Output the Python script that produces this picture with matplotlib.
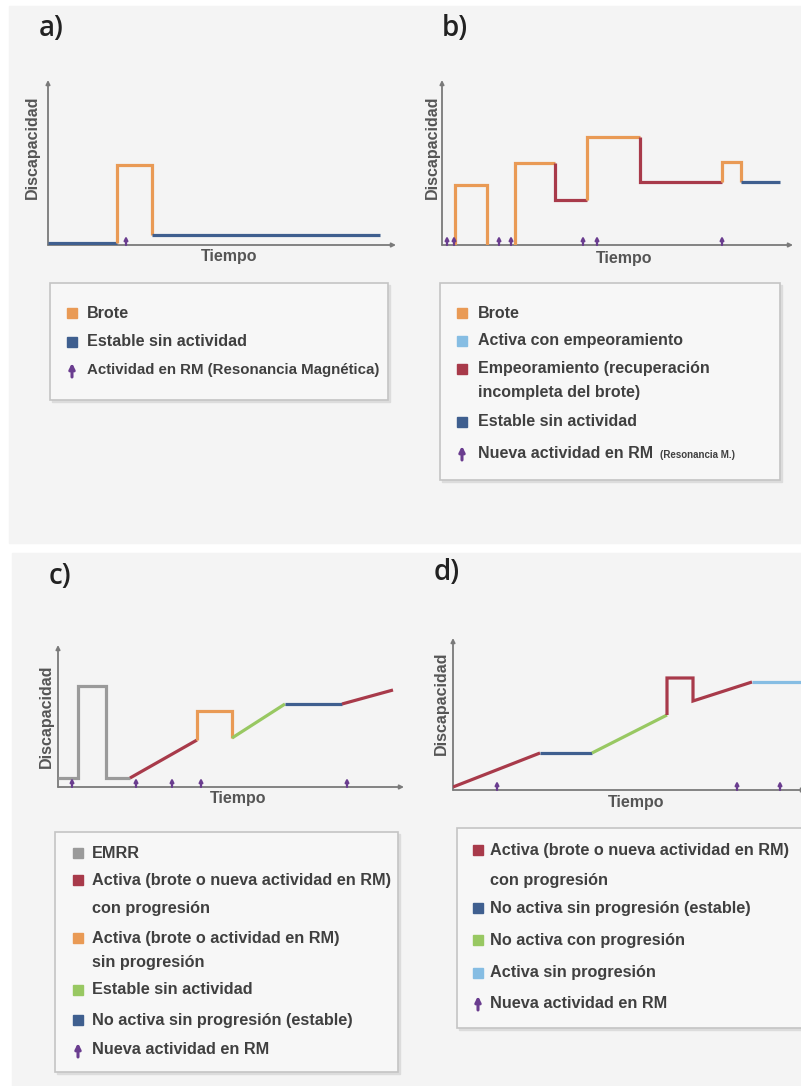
import matplotlib
matplotlib.use("Agg")
import matplotlib.pyplot as plt
from matplotlib.patches import Rectangle

W, H = 801, 1086

# colores de cada estado
C_BROTE = '#e99a55'
C_ESTABLE = '#3f5f8f'
C_EMPEORA = '#a83a4a'
C_CELESTE = '#86bde3'
C_VERDE = '#98c862'
C_GRIS = '#9a9a9a'
C_RM = '#6a3d8f'

# ---- datos (en px relativos al origen de cada grafico) ----
# a)
a_estable1_x = [0, 69]
a_estable1_y = [2, 2]
a_brote_x = [69, 69, 104, 104]
a_brote_y = [2, 80, 80, 10]
a_estable2_x = [104, 332]
a_estable2_y = [10, 10]
a_rm = [78]

# b)
b_brote1_x = [13, 13, 45, 45]
b_brote1_y = [0, 60, 60, 0]
b_brote2_x = [73, 73, 113]
b_brote2_y = [0, 82, 82]
b_empeora1_x = [113, 113, 145]
b_empeora1_y = [82, 45, 45]
b_brote3_x = [145, 145, 198]
b_brote3_y = [45, 108, 108]
b_empeora2_x = [198, 198, 280]
b_empeora2_y = [108, 63, 63]
b_brote4_x = [280, 280, 299, 299]
b_brote4_y = [63, 83, 83, 63]
b_estable_x = [299, 338]
b_estable_y = [63, 63]
b_rm = [5, 12, 57, 69, 141, 155, 280]

# c)
c_emrr_x = [0, 20, 20, 48, 48, 72]
c_emrr_y = [9, 9, 101, 101, 9, 9]
c_activa1_x = [72, 139]
c_activa1_y = [9, 47]
c_brote_x = [139, 139, 174, 174]
c_brote_y = [47, 76, 76, 49]
c_verde_x = [174, 227]
c_verde_y = [49, 83]
c_estable_x = [227, 284]
c_estable_y = [83, 83]
c_activa2_x = [284, 335]
c_activa2_y = [83, 97]
c_rm = [14, 78, 114, 143, 289]

# d)
d_activa1_x = [0, 87]
d_activa1_y = [3, 37]
d_estable_x = [87, 139]
d_estable_y = [37, 37]
d_verde_x = [139, 214]
d_verde_y = [37, 75]
d_activa2_x = [214, 214, 240, 240, 299]
d_activa2_y = [75, 112, 112, 89, 108]
d_celeste_x = [299, 352]
d_celeste_y = [108, 108]
d_rm = [44, 284, 327]

# leyendas (None = segunda linea del texto anterior)
leg_a = [('Brote', C_BROTE), ('Estable sin actividad', C_ESTABLE),
         ('Actividad en RM (Resonancia Magnética)', 'rm')]
leg_a_y = [313, 342, 370]
leg_b = [('Brote', C_BROTE), ('Activa con empeoramiento', C_CELESTE),
         ('Empeoramiento (recuperación', C_EMPEORA), ('incompleta del brote)', None),
         ('Estable sin actividad', C_ESTABLE),
         ('Nueva actividad en RM', 'rm')]
leg_b_y = [313, 341, 369, 393, 422, 453]
leg_c = [('EMRR', C_GRIS),
         ('Activa (brote o nueva actividad en RM)', C_EMPEORA), ('con progresión', None),
         ('Activa (brote o actividad en RM)', C_BROTE), ('sin progresión', None),
         ('Estable sin actividad', C_VERDE),
         ('No activa sin progresión (estable)', C_ESTABLE),
         ('Nueva actividad en RM', 'rm')]
leg_c_y = [853, 880, 909, 938, 963, 990, 1020, 1050]
leg_d = [('Activa (brote o nueva actividad en RM)', C_EMPEORA), ('con progresión', None),
         ('No activa sin progresión (estable)', C_ESTABLE),
         ('No activa con progresión', C_VERDE),
         ('Activa sin progresión', C_CELESTE),
         ('Nueva actividad en RM', 'rm')]
leg_d_y = [850, 880, 908, 940, 973, 1003]

plt.rcParams['font.family'] = ['Liberation Sans', 'DejaVu Sans']

fig = plt.figure(figsize=(W / 100, H / 100), dpi=100)
fig.patch.set_facecolor('white')
bg = fig.add_axes([0, 0, 1, 1])
bg.set_xlim(0, W)
bg.set_ylim(H, 0)
bg.axis('off')

# fondos grises
bg.add_patch(Rectangle((9, 6), W - 9, 537, color='#f4f4f4', zorder=0))
bg.add_patch(Rectangle((12, 553), W - 12, H - 553, color='#f4f4f4', zorder=0))

for lab, x, y in [('a)', 39, 29), ('b)', 442, 29), ('c)', 49, 576), ('d)', 434, 572)]:
    bg.text(x, y, lab, fontsize=20, color='#222222', va='center', ha='left',
            family='Open Sans', weight='semibold')


def rm_arrow(ax, x, y0, h, lw=1.6, ms=5):
    ax.annotate('', xy=(x, y0 + h), xytext=(x, y0),
                arrowprops=dict(arrowstyle='-|>', color=C_RM, lw=lw,
                                mutation_scale=ms, shrinkA=0, shrinkB=0))


def panel(ox, oy, wx, hy, segs, rms, tiempo_y, disc_x, disc_y):
    # ox, oy: origen en px; wx, hy: largo de los ejes en px
    ax = fig.add_axes([ox / W, 1 - oy / H, (wx + 20) / W, (hy + 10) / H])
    ax.set_xlim(0, wx + 20)
    ax.set_ylim(0, hy + 10)
    ax.axis('off')
    ax.patch.set_alpha(0)
    ax.annotate('', xy=(wx + 6, 0), xytext=(0, 0),
                arrowprops=dict(arrowstyle='-|>', color='#7a7a7a', lw=1.3,
                                mutation_scale=6, shrinkA=0, shrinkB=0))
    ax.annotate('', xy=(0, hy), xytext=(0, 0),
                arrowprops=dict(arrowstyle='-|>', color='#7a7a7a', lw=1.3,
                                mutation_scale=6, shrinkA=0, shrinkB=0))
    for xs, ys, col in segs:
        ax.plot(xs, ys, color=col, lw=2.3, solid_joinstyle='miter',
                solid_capstyle='butt', zorder=3)
    for x in rms:
        rm_arrow(ax, x, 0, 9)
    bg.text(ox + wx / 2 + 10, tiempo_y, 'Tiempo', fontsize=11.5, weight='bold',
            color='#555555', ha='center', va='center')
    bg.text(disc_x, disc_y, 'Discapacidad', fontsize=11.5, weight='bold',
            color='#555555', ha='center', va='center', rotation=90)
    return ax


panel(48, 245, 342, 165,
      [(a_estable1_x, a_estable1_y, C_ESTABLE), (a_brote_x, a_brote_y, C_BROTE),
       (a_estable2_x, a_estable2_y, C_ESTABLE)],
      a_rm, 257, 32, 147)

panel(442, 245, 345, 165,
      [(b_brote1_x, b_brote1_y, C_BROTE), (b_brote2_x, b_brote2_y, C_BROTE),
       (b_empeora1_x, b_empeora1_y, C_EMPEORA), (b_brote3_x, b_brote3_y, C_BROTE),
       (b_empeora2_x, b_empeora2_y, C_EMPEORA), (b_brote4_x, b_brote4_y, C_BROTE),
       (b_estable_x, b_estable_y, C_ESTABLE)],
      b_rm, 258, 432, 147)

panel(58, 787, 340, 142,
      [(c_emrr_x, c_emrr_y, C_GRIS), (c_activa1_x, c_activa1_y, C_EMPEORA),
       (c_brote_x, c_brote_y, C_BROTE), (c_verde_x, c_verde_y, C_VERDE),
       (c_estable_x, c_estable_y, C_ESTABLE), (c_activa2_x, c_activa2_y, C_EMPEORA)],
      c_rm, 799, 46, 716)

panel(453, 790, 347, 152,
      [(d_activa1_x, d_activa1_y, C_EMPEORA), (d_estable_x, d_estable_y, C_ESTABLE),
       (d_verde_x, d_verde_y, C_VERDE), (d_activa2_x, d_activa2_y, C_EMPEORA),
       (d_celeste_x, d_celeste_y, C_CELESTE)],
      d_rm, 803, 441, 703)


def legend_box(x0, y0, x1, y1, items, ys, mx, tx, fs=11.5):
    bg.add_patch(Rectangle((x0 + 2, y0 + 2), x1 - x0, y1 - y0, color='#dcdcdc', zorder=1))
    bg.add_patch(Rectangle((x0, y0), x1 - x0, y1 - y0, facecolor='#f7f7f7',
                           edgecolor='#c4c4c4', lw=1.2, zorder=2))
    for (lab, col), y in zip(items, ys):
        f = fs
        if col == 'rm':
            bg.annotate('', xy=(mx + 5, y - 7), xytext=(mx + 5, y + 7),
                        arrowprops=dict(arrowstyle='-|>', color=C_RM, lw=2.2,
                                        mutation_scale=8, shrinkA=0, shrinkB=0),
                        zorder=3)
        elif col is not None:
            bg.add_patch(Rectangle((mx, y - 5), 10, 10, color=col, zorder=3))
        if len(lab) > 36 and col == 'rm':
            f = fs - 0.8
        bg.text(tx, y, lab, fontsize=f, weight='bold', color='#404040',
                ha='left', va='center', zorder=3)


legend_box(50, 283, 388, 400, leg_a, leg_a_y, 67, 87, fs=11.6)
legend_box(440, 283, 780, 480, leg_b, leg_b_y, 457, 478)
bg.text(660, 455, '(Resonancia M.)', fontsize=7, weight='bold', color='#404040',
        ha='left', va='center', zorder=3)
legend_box(55, 832, 398, 1072, leg_c, leg_c_y, 73, 92, fs=11.7)
legend_box(457, 828, 803, 1028, leg_d, leg_d_y, 473, 490, fs=11.7)

fig.savefig('out.png', dpi=100, facecolor='white')
